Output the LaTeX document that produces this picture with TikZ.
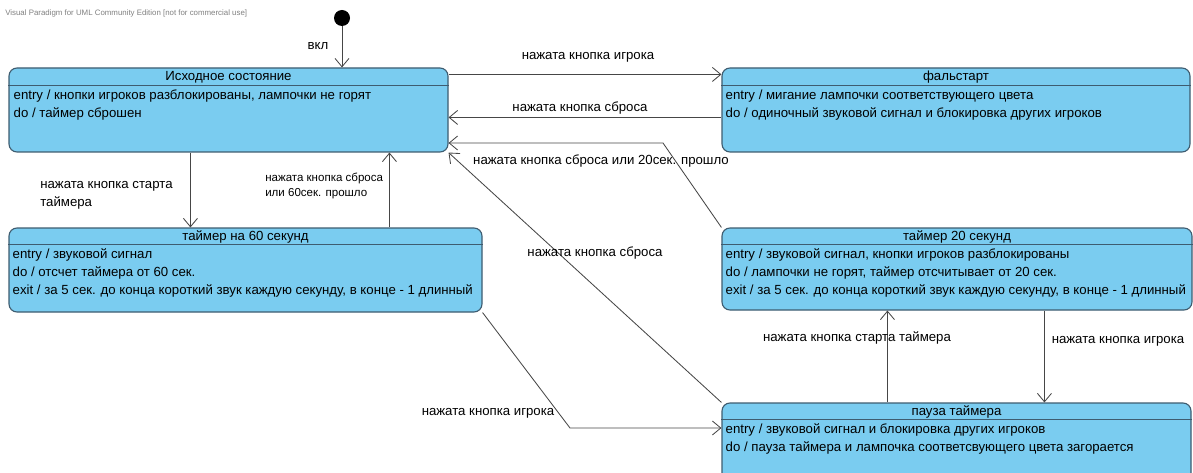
\documentclass[tikz,border=0pt]{standalone}
\usepackage{fontspec}
\setmainfont{Liberation Sans}
\usetikzlibrary{arrows.meta, calc, fit}

\definecolor{statefill}{RGB}{122,204,240}
\definecolor{stateline}{RGB}{62,92,112}
\definecolor{wire}{RGB}{70,70,70}

\tikzset{
    state/.style={draw=stateline, fill=statefill, line width=0.8pt, rounded corners=0.2cm, inner sep=0pt},
    statehead/.style={draw=stateline, line width=0.8pt},
    statetitle/.style={font=\fontsize{9.4}{10}\selectfont, inner sep=0pt, anchor=base},
    statebody/.style={font=\fontsize{9.4}{12.8}\selectfont, align=left, anchor=north west, inner sep=0pt},
    trans/.style={draw=wire, line width=0.6pt, -{Straight Barb[length=6pt, width=10pt]}},
    translabel/.style={font=\fontsize{9.4}{12.8}\selectfont, inner sep=0pt, align=left},
}

\begin{document}
\begin{tikzpicture}[x=0.025cm, y=-0.025cm]
        \useasboundingbox (0, 0) rectangle (1193, 473);

        % Watermark:
        \node[anchor=west, inner sep=0, text=gray, font=\fontsize{5.6}{6}\selectfont] (wm) at (5, 13) {Visual Paradigm for UML Community Edition [not for commercial use]};

        % States:
        \node[circle, fill=black, inner sep=0, minimum size=0.4cm] (start) at (342, 18) {};
        \node[state, fit={(9, 68) (448, 152)}] (s0) {};
        \node[state, fit={(722, 68) (1190, 152)}] (s1) {};
        \node[state, fit={(9, 228) (482, 312)}] (s2) {};
        \node[state, fit={(722, 228) (1192, 310)}] (s3) {};
        \node[state, fit={(722, 403) (1191, 490)}] (s4) {};

        % Headers:
        \draw[statehead] ($(s0.north west)+(0, 18)$) -- ($(s0.north east)+(0, 18)$);
        \draw[statehead] ($(s1.north west)+(0, 18)$) -- ($(s1.north east)+(0, 18)$);
        \draw[statehead] ($(s2.north west)+(0, 17)$) -- ($(s2.north east)+(0, 17)$);
        \draw[statehead] ($(s3.north west)+(0, 17)$) -- ($(s3.north east)+(0, 17)$);
        \draw[statehead] ($(s4.north west)+(0, 17)$) -- ($(s4.north east)+(0, 17)$);

        \node[statetitle] (s0t) at ($(s0.north)+(0, 13)$) {Исходное состояние};
        \node[statetitle] (s1t) at ($(s1.north)+(0, 13)$) {фальстарт};
        \node[statetitle] (s2t) at ($(s2.north)+(0, 13)$) {таймер на 60 секунд};
        \node[statetitle] (s3t) at ($(s3.north)+(0, 13)$) {таймер 20 секунд};
        \node[statetitle] (s4t) at ($(s4.north)+(0, 13)$) {пауза таймера};

        \node[statebody] (s0b) at ($(s0.north west)+(5, 22)$) {entry / кнопки игроков разблокированы, лампочки не горят\\do / таймер сброшен};
        \node[statebody] (s1b) at ($(s1.north west)+(4, 22)$) {entry / мигание лампочки соответствующего цвета\\do / одиночный звуковой сигнал и блокировка других игроков};
        \node[statebody] (s2b) at ($(s2.north west)+(4, 21)$) {entry / звуковой сигнал\\do / отсчет таймера от 60 сек.\\exit / за 5 сек. до конца короткий звук каждую секунду, в конце - 1 длинный};
        \node[statebody] (s3b) at ($(s3.north west)+(4, 21)$) {entry / звуковой сигнал, кнопки игроков разблокированы\\do / лампочки не горят, таймер отсчитывает от 20 сек.\\exit / за 5 сек. до конца короткий звук каждую секунду, в конце - 1 длинный};
        \node[statebody] (s4b) at ($(s4.north west)+(4, 21)$) {entry / звуковой сигнал и блокировка других игроков\\do / пауза таймера и лампочка соответсвующего цвета загорается};

        % Transitions:
        \coordinate (k1) at (663, 143);
        \coordinate (k2) at (570, 428);
        \draw[trans] (start) -- (start |- s0.north);
        \draw[trans] ($(s0.north east)+(0, 7)$) -- ($(s1.north west)+(0, 7)$);
        \draw[trans] ($(s1.north west)+(0, 50)$) -- ($(s0.north east)+(0, 50)$);
        \draw[trans] (s3.north west) -- (k1) -- (k1 -| s0.east);
        \draw[trans] (s4.north west) -- (s0.south east);
        \draw[trans] ($(s0.south west)+(182, 0)$) -- ($(s2.north west)+(182, 0)$);
        \draw[trans] ($(s2.north west)+(381, 0)$) -- ($(s0.south west)+(381, 0)$);
        \draw[trans] (s2.south east) -- (k2) -- (k2 -| s4.west);
        \draw[trans] ($(s4.north west)+(166, 0)$) -- ($(s3.south west)+(166, 0)$);
        \draw[trans] ($(s3.south west)+(323, 0)$) -- ($(s4.north west)+(323, 0)$);

        % Labels:
        \node[translabel] (l0) at (318, 46) {вкл};
        \node[translabel] (l1) at (588, 57) {нажата кнопка игрока};
        \node[translabel] (l2) at (580, 108) {нажата кнопка сброса};
        \node[translabel] (l3) at (601, 161) {нажата кнопка сброса или 20сек. прошло};
        \node[translabel] (l4) at (595, 253) {нажата кнопка сброса};
        \node[translabel, anchor=west] (l5) at (40, 195) {нажата кнопка старта\\таймера};
        \node[translabel, anchor=west, font=\fontsize{8.2}{10.6}\selectfont] (l6) at (265, 186) {нажата кнопка сброса\\или 60сек. прошло};
        \node[translabel] (l7) at (488, 413) {нажата кнопка игрока};
        \node[translabel] (l8) at (857, 338) {нажата кнопка старта таймера};
        \node[translabel] (l9) at (1118, 341) {нажата кнопка игрока};
\end{tikzpicture}
\end{document}
